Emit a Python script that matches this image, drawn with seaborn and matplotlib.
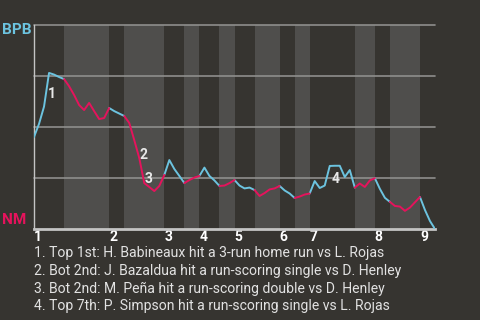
import matplotlib
matplotlib.use("Agg")
import matplotlib.pyplot as plt
import numpy as np
import pandas as pd
import seaborn as sns

# Events per half-inning (top 1st, bottom 1st, top 2nd, ...)
half_lengths = [6, 9, 3, 8, 4, 3, 4, 3, 4, 5, 3, 3, 9, 4, 3, 6, 3]
inning_labels = ["1", "2", "3", "4", "5", "6", "7", "8", "9"]

# BPB win probability after each event
bpb_wp = [
    0.451, 0.515, 0.600, 0.765, 0.757, 0.745, 0.735,
    0.700, 0.657, 0.608, 0.583, 0.618, 0.578, 0.539, 0.544, 0.593,
    0.578, 0.566, 0.554,
    0.520, 0.436, 0.348, 0.225, 0.206, 0.186, 0.211, 0.265,
    0.338, 0.294, 0.260, 0.225,
    0.240, 0.252, 0.260,
    0.301, 0.260, 0.238, 0.211,
    0.213, 0.225, 0.240,
    0.213, 0.199, 0.203, 0.191,
    0.162, 0.176, 0.194, 0.199, 0.211,
    0.189, 0.174, 0.152,
    0.159, 0.169, 0.174,
    0.235, 0.201, 0.213, 0.309, 0.310, 0.310, 0.255, 0.289, 0.203,
    0.223, 0.206, 0.238, 0.249,
    0.197, 0.153, 0.133,
    0.113, 0.110, 0.089, 0.105, 0.131, 0.157,
    0.093, 0.039, 0.000,
]

# Key plays: marker number, label position (event index, win prob)
play_numbers = ["1", "2", "3", "4"]
play_x = [3.6, 21.8, 22.8, 60.1]
play_y = [0.662, 0.363, 0.245, 0.245]
play_text = [
    "1. Top 1st: H. Babineaux hit a 3-run home run vs L. Rojas",
    "2. Bot 2nd: J. Bazaldua hit a run-scoring single vs D. Henley",
    "3. Bot 2nd: M. Peña hit a run-scoring double vs D. Henley",
    "4. Top 7th: P. Simpson hit a run-scoring single vs L. Rojas",
]

BG = "#363430"
BAND = "#4f4e4c"
BLUE = "#6cc3df"
RED = "#e5135c"

sns.set_theme(style="dark")
plt.rcParams["font.family"] = ["Roboto", "DejaVu Sans"]

# Build segments: each half-inning shares its boundary points
bounds = np.concatenate([[0], np.cumsum(half_lengths)])
rows = []
for h in range(len(half_lengths)):
    team = "BPB" if h % 2 == 0 else "NM"
    for i in range(bounds[h], bounds[h + 1] + 1):
        rows.append({"event": i, "wp": bpb_wp[i], "team": team, "half": h})
df = pd.DataFrame(rows)

fig = plt.figure(figsize=(4.8, 3.2), dpi=100, facecolor=BG)
ax = fig.add_axes([34 / 480, 1 - 229 / 320, 401 / 480, 204 / 320])
ax.set_facecolor(BG)

# Shade bottom halves of each inning
for h in range(1, len(half_lengths), 2):
    ax.axvspan(bounds[h], bounds[h + 1], color=BAND, lw=0, zorder=0)

for g in [0.25, 0.5, 0.75, 1.0]:
    ax.axhline(g, color="#8e8e8c", lw=1.2, zorder=1, clip_on=False)

sns.lineplot(
    data=df, x="event", y="wp", hue="team", units="half", estimator=None,
    palette={"BPB": BLUE, "NM": RED}, lw=1.4, legend=False, ax=ax, zorder=3,
)

for n, x, y in zip(play_numbers, play_x, play_y):
    ax.text(x, y, n, color="#e8e8e8", fontsize=10, fontweight="bold",
            ha="center", va="center", zorder=4)

ax.set_xlim(0, bounds[-1])
ax.set_ylim(0, 1)
ax.set_xlabel("")
ax.set_ylabel("")
ax.set_yticks([])
inning_starts = bounds[0::2][: len(inning_labels)]
ax.set_xticks(inning_starts)
ax.set_xticklabels(inning_labels, ha="left", color="white",
                   fontsize=10, fontweight="bold")
ax.tick_params(axis="x", length=0, pad=1)
ax.grid(False)

for side in ["top", "right"]:
    ax.spines[side].set_visible(False)
ax.spines["left"].set_color("#c4c4c4")
ax.spines["left"].set_linewidth(1.0)
ax.spines["bottom"].set_color("#c4c4c4")
ax.spines["bottom"].set_linewidth(2.0)

fig.text(2 / 480, 1 - 30.5 / 320, "BPB", color=BLUE, fontsize=11,
         fontweight="bold", ha="left", va="center")
fig.text(2 / 480, 1 - 219.5 / 320, "NM", color=RED, fontsize=11,
         fontweight="bold", ha="left", va="center")

for k, line in enumerate(play_text):
    fig.text(34 / 480, 1 - (253 + 17.8 * k) / 320, line, color="#e2e2e2",
             fontsize=10.1, ha="left", va="center")

fig.savefig("out.png", dpi=100, facecolor=BG)
